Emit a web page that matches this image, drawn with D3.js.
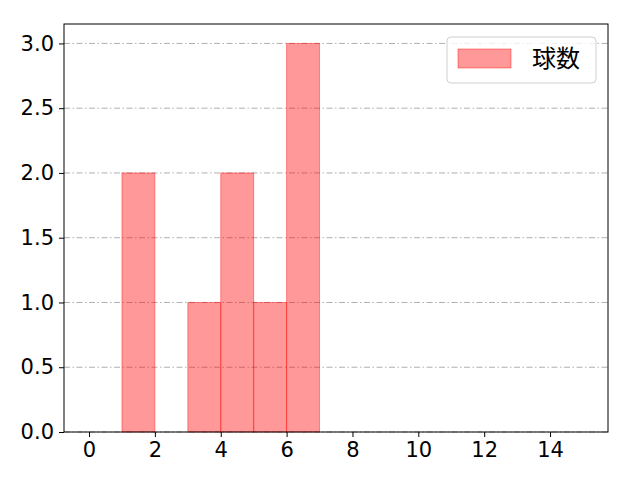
<!DOCTYPE html>
<html>
<head>
<meta charset="utf-8">
<script src="https://cdn.jsdelivr.net/npm/d3@7"></script>
<style>
  body { margin: 0; background: #fff; }
  text { font-family: "DejaVu Sans", sans-serif; }
</style>
</head>
<body>
<div id="chart"></div>
<script>
// histogram bins and counts
var binStarts = [1, 3, 4, 5, 6];
var binWidth = 1;
var counts = [2, 1, 2, 1, 3];
var xTicks = [0, 2, 4, 6, 8, 10, 12, 14];
var yTicks = [0.0, 0.5, 1.0, 1.5, 2.0, 2.5, 3.0];
var seriesName = "球数";

var margin = {top: 24, right: 32, bottom: 48, left: 64},
    width = 640 - margin.left - margin.right,
    height = 480 - margin.top - margin.bottom;

var svg = d3.select("#chart").append("svg")
    .attr("width", 640)
    .attr("height", 480)
  .append("g")
    .attr("transform", "translate(" + margin.left + "," + margin.top + ")");

var x = d3.scaleLinear().domain([-0.76, 15.76]).range([0, width]);
var y = d3.scaleLinear().domain([0, 3.15]).range([height, 0]);

// grid
svg.selectAll(".grid")
    .data(yTicks)
  .enter()
    .append("line")
        .attr("x1", 0)
        .attr("x2", width)
        .attr("y1", function(d){ return y(d); })
        .attr("y2", function(d){ return y(d); })
        .attr("stroke", "#b0b0b0")
        .attr("stroke-width", 1)
        .attr("stroke-dasharray", "6,2.5,1.5,2.5");

// bars
svg.selectAll(".bar")
    .data(binStarts)
  .enter()
    .append("rect")
        .attr("x", function(d){ return x(d); })
        .attr("width", function(d){ return x(d + binWidth) - x(d); })
        .attr("y", function(d, i){ return y(counts[i]); })
        .attr("height", function(d, i){ return y(0) - y(counts[i]); })
        .attr("fill", "rgba(255,0,0,0.4)")
        .attr("stroke", "rgba(255,0,0,0.4)")
        .attr("stroke-width", 1);

// axes
var xAxis = svg.append("g")
    .attr("transform", "translate(0," + height + ")")
    .call(d3.axisBottom(x).tickValues(xTicks).tickSize(5).tickPadding(5).tickFormat(d3.format("d")));
var yAxis = svg.append("g")
    .call(d3.axisLeft(y).tickValues(yTicks).tickSize(5).tickPadding(5).tickFormat(d3.format(".1f")));

[xAxis, yAxis].forEach(function(a){
  a.select(".domain").remove();
  a.selectAll("text").style("font-size", "21px").attr("fill", "#000");
  a.selectAll("line").attr("stroke", "#000");
});

// frame
svg.append("rect")
    .attr("width", width)
    .attr("height", height)
    .attr("fill", "none")
    .attr("stroke", "#000")
    .attr("stroke-width", 1);

// legend
var legend = svg.append("g").attr("transform", "translate(" + (width - 161) + ",13)");
legend.append("rect")
    .attr("width", 149)
    .attr("height", 46)
    .attr("rx", 4)
    .attr("fill", "rgba(255,255,255,0.8)")
    .attr("stroke", "#d0d0d0");
legend.append("rect")
    .attr("x", 11)
    .attr("y", 12)
    .attr("width", 53)
    .attr("height", 19)
    .attr("fill", "rgba(255,0,0,0.4)")
    .attr("stroke", "rgba(255,0,0,0.4)");
legend.append("text")
    .attr("x", 85)
    .attr("y", 30)
    .style("font-family", "'Noto Sans CJK JP', sans-serif")
    .style("font-size", "24px")
    .text(seriesName);
</script>
</body>
</html>
